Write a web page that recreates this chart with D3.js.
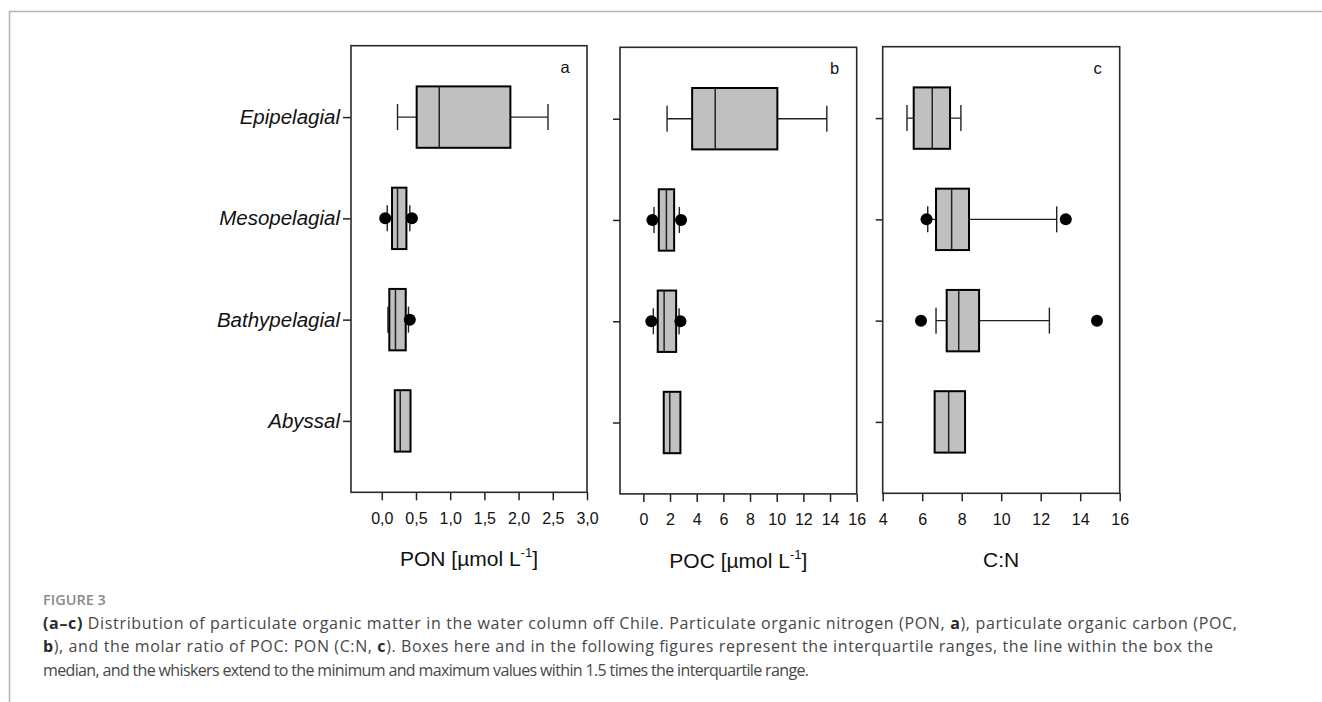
<!DOCTYPE html>
<html>
<head>
<meta charset="utf-8">
<script src="https://cdn.jsdelivr.net/npm/d3@7"></script>
<style>
  body { margin: 0; background: #fff; }
  svg { display: block; }
</style>
</head>
<body>
<div id="plot"></div>
<script>

// depth zones (y categories)
const zones = ["Epipelagial", "Mesopelagial", "Bathypelagial", "Abyssal"];

// box stats per zone: whisker low, q1, median, q3, whisker high, outliers
const ponBoxes = [
  {zone: "Epipelagial",   lo: 0.23, q1: 0.51, med: 0.84, q3: 1.88, hi: 2.43, out: []},
  {zone: "Mesopelagial",  lo: 0.08, q1: 0.15, med: 0.23, q3: 0.36, hi: 0.41, out: [0.05, 0.44]},
  {zone: "Bathypelagial", lo: 0.09, q1: 0.11, med: 0.20, q3: 0.35, hi: 0.39, out: [0.41]},
  {zone: "Abyssal",       lo: 0.19, q1: 0.19, med: 0.27, q3: 0.42, hi: 0.42, out: []}
];

const pocBoxes = [
  {zone: "Epipelagial",   lo: 1.78, q1: 3.66, med: 5.39, q3: 10.05, hi: 13.76, out: []},
  {zone: "Mesopelagial",  lo: 0.80, q1: 1.16, med: 1.73, q3: 2.31,  hi: 2.70,  out: [0.68, 2.83]},
  {zone: "Bathypelagial", lo: 0.75, q1: 1.08, med: 1.56, q3: 2.46,  hi: 2.68,  out: [0.60, 2.78]},
  {zone: "Abyssal",       lo: 1.53, q1: 1.53, med: 1.98, q3: 2.78,  hi: 2.78,  out: []}
];

const cnBoxes = [
  {zone: "Epipelagial",   lo: 5.23, q1: 5.57, med: 6.51, q3: 7.41, hi: 7.96,  out: []},
  {zone: "Mesopelagial",  lo: 6.28, q1: 6.70, med: 7.49, q3: 8.37, hi: 12.81, out: [6.22, 13.27]},
  {zone: "Bathypelagial", lo: 6.70, q1: 7.24, med: 7.85, q3: 8.88, hi: 12.44, out: [5.94, 14.85]},
  {zone: "Abyssal",       lo: 6.63, q1: 6.63, med: 7.34, q3: 8.17, hi: 8.17,  out: []}
];

// tick values
const ponTicks = [0, 0.5, 1.0, 1.5, 2.0, 2.5, 3.0];
const pocTicks = [0, 2, 4, 6, 8, 10, 12, 14, 16];
const cnTicks  = [4, 6, 8, 10, 12, 14, 16];

// caption
const figLabel = "FIGURE 3";
const captionLines = [
  [["(a\u2013c)", true], [" Distribution of particulate organic matter in the water column off Chile. Particulate organic nitrogen (PON, ", false], ["a", true], ["), particulate organic carbon (POC,", false]],
  [["b", true], ["), and the molar ratio of POC: PON (C:N, ", false], ["c", true], ["). Boxes here and in the following figures represent the interquartile ranges, the line within the box the", false]],
  [["median, and the whiskers extend to the minimum and maximum values within 1.5 times the interquartile range.", false]]
];
// line widths as measured on the figure
const captionWidths = [1194, 1170, 766];

const w = 1322, h = 702;
const panelH = 446.6;
const boxHalf = 30.7, capHalf = 13, dotR = 6;

const commaFmt = d => d3.format(".1f")(d).replace(".", ",");

const panels = [
  {id: "a", data: ponBoxes, domain: [-0.45, 3.0], ticks: ponTicks, fmt: commaFmt,
   left: 351, right: 587, top: 45.7, title: "PON [\u00b5mol L", sup: true, yLabels: true},
  {id: "b", data: pocBoxes, domain: [-1.75, 16], ticks: pocTicks, fmt: d3.format("d"),
   left: 620, right: 856.7, top: 47.3, title: "POC [\u00b5mol L", sup: true, yLabels: false},
  {id: "c", data: cnBoxes, domain: [4, 16], ticks: cnTicks, fmt: d3.format("d"),
   left: 882.7, right: 1119.7, top: 46.7, title: "C:N", sup: false, yLabels: false}
];

const svg = d3.select("div#plot")
  .append("svg")
  .attr("width", w)
  .attr("height", h);

// outer frame of the figure
svg.append("path")
  .attr("d", `M9.5,${h} V11.5 H${w}`)
  .attr("fill", "none")
  .attr("stroke", "#b4b4b4")
  .attr("stroke-width", 1.5);

panels.forEach(p => {

  const xScale = d3.scaleLinear()
    .domain(p.domain)
    .range([0, p.right - p.left]);

  const yScale = d3.scalePoint()
    .domain(zones)
    .range([0, panelH])
    .padding(0.705);

  const g = svg.append("g")
    .attr("id", "panel" + p.id)
    .attr("transform", `translate(${p.left}, ${p.top})`);

  // x-axis
  const xAxis = d3.axisBottom(xScale)
    .tickValues(p.ticks)
    .tickFormat(p.fmt)
    .tickSizeInner(8)
    .tickSizeOuter(0)
    .tickPadding(12);

  g.append("g")
    .attr("class", "xaxis")
    .attr("transform", `translate(0, ${panelH})`)
    .call(xAxis)
    .call(a => a.select(".domain").remove())
    .call(a => a.selectAll("line").attr("stroke", "#222").attr("stroke-width", 1.5))
    .call(a => a.selectAll("text")
      .attr("fill", "#111")
      .style("font-family", "'Liberation Sans', Arial, sans-serif")
      .style("font-size", "16px"));

  // y-axis
  const yAxis = d3.axisLeft(yScale)
    .tickSizeInner(p.yLabels ? 8 : 7)
    .tickSizeOuter(0)
    .tickPadding(3)
    .tickFormat(p.yLabels ? (d => d) : "");

  g.append("g")
    .attr("class", "yaxis")
    .call(yAxis)
    .call(a => a.select(".domain").remove())
    .call(a => a.selectAll("line").attr("stroke", "#222").attr("stroke-width", 1.5))
    .call(a => a.selectAll("text")
      .attr("fill", "#111")
      .style("font-family", "'Liberation Sans', Arial, sans-serif")
      .style("font-style", "italic")
      .style("font-size", "20.5px"));

  // frame
  g.append("rect")
    .attr("x", 0)
    .attr("y", 0)
    .attr("width", p.right - p.left)
    .attr("height", panelH)
    .attr("fill", "none")
    .attr("stroke", "#2a2a2a")
    .attr("stroke-width", 1.6);

  // panel letter
  g.append("text")
    .attr("x", p.right - p.left - 22)
    .attr("y", 27)
    .attr("text-anchor", "middle")
    .style("font-family", "'Liberation Sans', Arial, sans-serif")
    .style("font-size", "16.5px")
    .attr("fill", "#111")
    .text(p.id);

  // boxes
  const boxes = g.append("g")
    .attr("class", "boxes")
    .selectAll("g")
    .data(p.data)
    .enter()
    .append("g")
    .attr("transform", d => `translate(0, ${yScale(d.zone)})`);

  // whiskers
  boxes.append("line")
    .attr("x1", d => xScale(d.lo))
    .attr("x2", d => xScale(d.hi))
    .attr("y1", 0)
    .attr("y2", 0)
    .attr("stroke", "#222")
    .attr("stroke-width", 1.4);

  boxes.selectAll("line.cap")
    .data(d => d.lo === d.q1 ? [] : [d.lo, d.hi])
    .enter()
    .append("line")
    .attr("class", "cap")
    .attr("x1", d => xScale(d))
    .attr("x2", d => xScale(d))
    .attr("y1", -capHalf)
    .attr("y2", capHalf)
    .attr("stroke", "#222")
    .attr("stroke-width", 1.4);

  // interquartile box
  boxes.append("rect")
    .attr("x", d => xScale(d.q1))
    .attr("y", -boxHalf)
    .attr("width", d => xScale(d.q3) - xScale(d.q1))
    .attr("height", 2 * boxHalf)
    .attr("fill", "#c0c0c0")
    .attr("stroke", "#000")
    .attr("stroke-width", 2);

  // median
  boxes.append("line")
    .attr("x1", d => xScale(d.med))
    .attr("x2", d => xScale(d.med))
    .attr("y1", -boxHalf)
    .attr("y2", boxHalf)
    .attr("stroke", "#222")
    .attr("stroke-width", 1.5);

  // outliers
  boxes.selectAll("circle")
    .data(d => d.out)
    .enter()
    .append("circle")
    .attr("cx", d => xScale(d))
    .attr("cy", 0)
    .attr("r", dotR)
    .attr("fill", "#000");

  // x-axis title
  const title = g.append("text")
    .attr("x", (p.right - p.left) / 2)
    .attr("y", panelH + 74)
    .attr("text-anchor", "middle")
    .style("font-family", "'Liberation Sans', Arial, sans-serif")
    .style("font-size", "21px")
    .attr("fill", "#111");

  title.append("tspan").text(p.title);
  if (p.sup) {
    title.append("tspan")
      .attr("dy", -9)
      .style("font-size", "13px")
      .text("-1");
    title.append("tspan")
      .attr("dy", 9)
      .text("]");
  }
});

// caption
svg.append("text")
  .attr("x", 43)
  .attr("y", 605)
  .style("font-family", "'Open Sans', sans-serif")
  .style("font-size", "14.5px")
  .style("font-weight", 600)
  .attr("fill", "#8a8a8a")
  .text(figLabel);

svg.append("g")
  .attr("id", "caption")
  .selectAll("text")
  .data(captionLines)
  .enter()
  .append("text")
  .attr("x", 43)
  .attr("y", (d, i) => 628.5 + i * 23.5)
  .attr("textLength", (d, i) => captionWidths[i])
  .attr("lengthAdjust", "spacing")
  .style("font-family", "'Open Sans', sans-serif")
  .style("font-size", "16px")
  .attr("fill", "#474747")
  .selectAll("tspan")
  .data(d => d)
  .enter()
  .append("tspan")
  .style("font-weight", d => d[1] ? 700 : 400)
  .attr("fill", d => d[1] ? "#2a2a2a" : "#474747")
  .text(d => d[0]);

</script>
</body>
</html>
